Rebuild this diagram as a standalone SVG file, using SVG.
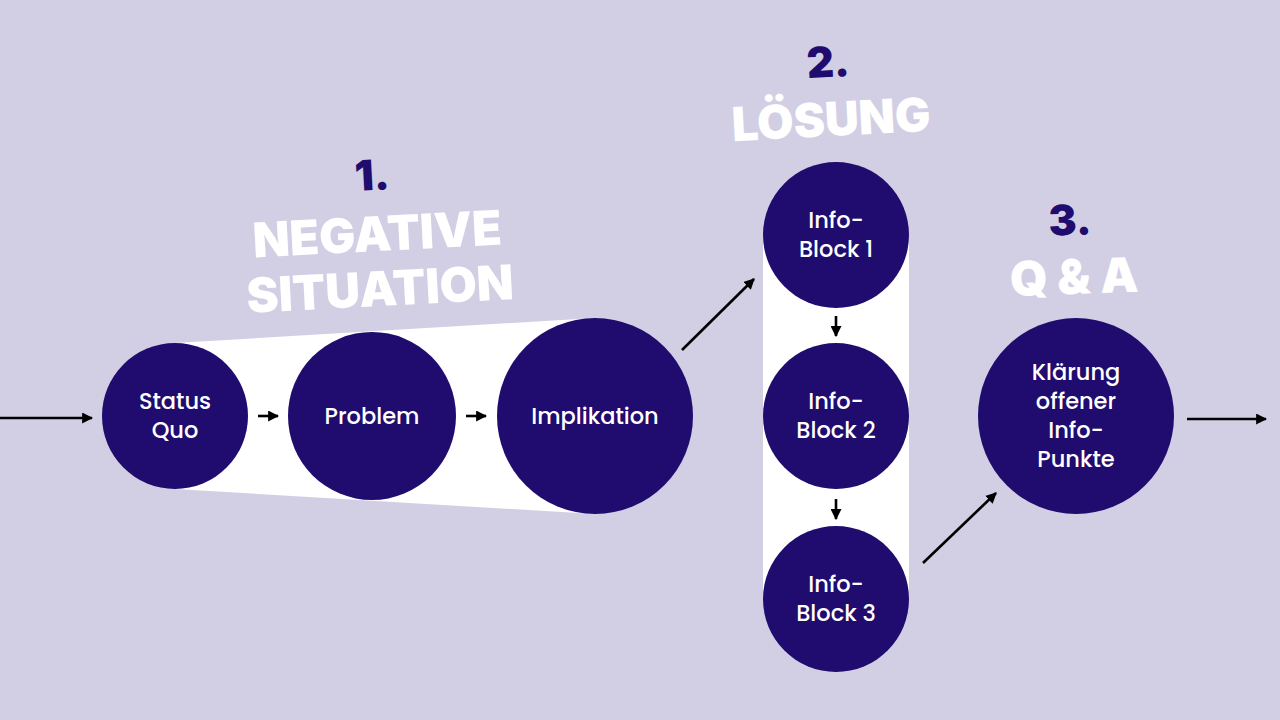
<svg xmlns="http://www.w3.org/2000/svg" width="1280" height="720" viewBox="0 0 1280 720">
<defs>
<marker id="ah" viewBox="0 0 10 10" refX="9" refY="5" markerWidth="11" markerHeight="11" markerUnits="userSpaceOnUse" orient="auto">
<path d="M0,0 L10,5 L0,10 Z" fill="#000"/>
</marker>
<style>
.node{fill:#1F0C6E}
.lbl{font-family:"Poppins","Inter","Noto Sans",sans-serif;font-weight:500;font-size:22.5px;fill:#fff;text-anchor:middle}
.conn{stroke:#000;stroke-width:2.6;fill:none;marker-end:url(#ah)}
.num{font-family:"Inter","Lato","DejaVu Sans",sans-serif;font-weight:900;fill:#1F0C6E;text-anchor:middle}
.ttl{font-family:"Inter","Lato","DejaVu Sans",sans-serif;font-weight:900;fill:#fff;text-anchor:middle}
</style>
</defs>
<rect width="1280" height="720" fill="#D2CFE5"/>
<g id="bands">
<polygon points="175,343 595,318 595,514 175,489" fill="#fff"/>
<rect x="763" y="235" width="146" height="364" fill="#fff"/>
</g>
<g id="titles">
<text class="num" x="372" y="190" font-size="42" transform="rotate(-3 372 175)">1.</text>
<text class="ttl" x="377" y="251" font-size="48" transform="rotate(-3 377 232)">NEGATIVE</text>
<text class="ttl" x="380" y="306" font-size="48" transform="rotate(-3 380 287)">SITUATION</text>
<text class="num" x="828" y="77" font-size="42" transform="rotate(-3 828 62)">2.</text>
<text class="ttl" x="831" y="136" font-size="47" transform="rotate(-3 831 118)">LÖSUNG</text>
<text class="num" x="1070" y="235" font-size="42" transform="rotate(-2 1070 220)">3.</text>
<text class="ttl" x="1074" y="294" font-size="48" transform="rotate(-2 1074 275)">Q &amp; A</text>
</g>
<g id="connectors">
<line class="conn" x1="0" y1="418" x2="92" y2="418"/>
<line class="conn" x1="258" y1="416" x2="278" y2="416"/>
<line class="conn" x1="466" y1="416" x2="486" y2="416"/>
<line class="conn" x1="682" y1="350" x2="754" y2="279"/>
<line class="conn" x1="836" y1="316" x2="836" y2="336"/>
<line class="conn" x1="836" y1="499" x2="836" y2="519"/>
<line class="conn" x1="923" y1="563" x2="996" y2="493"/>
<line class="conn" x1="1187" y1="419" x2="1266" y2="419"/>
</g>
<g id="n-status"><circle class="node" cx="175" cy="416" r="73"/><text class="lbl" x="175" y="409">Status</text><text class="lbl" x="175" y="438">Quo</text></g>
<g id="n-problem"><circle class="node" cx="372" cy="416" r="84"/><text class="lbl" x="372" y="424">Problem</text></g>
<g id="n-implikation"><circle class="node" cx="595" cy="416" r="98"/><text class="lbl" x="595" y="424">Implikation</text></g>
<g id="n-info1"><circle class="node" cx="836" cy="235" r="73"/><text class="lbl" x="836" y="228">Info-</text><text class="lbl" x="836" y="257">Block 1</text></g>
<g id="n-info2"><circle class="node" cx="836" cy="416" r="73"/><text class="lbl" x="836" y="409">Info-</text><text class="lbl" x="836" y="438">Block 2</text></g>
<g id="n-info3"><circle class="node" cx="836" cy="599" r="73"/><text class="lbl" x="836" y="592">Info-</text><text class="lbl" x="836" y="621">Block 3</text></g>
<g id="n-klaerung"><circle class="node" cx="1076" cy="416" r="98"/><text class="lbl" x="1076" y="380">Klärung</text><text class="lbl" x="1076" y="409">offener</text><text class="lbl" x="1076" y="438">Info-</text><text class="lbl" x="1076" y="467">Punkte</text></g>
</svg>
